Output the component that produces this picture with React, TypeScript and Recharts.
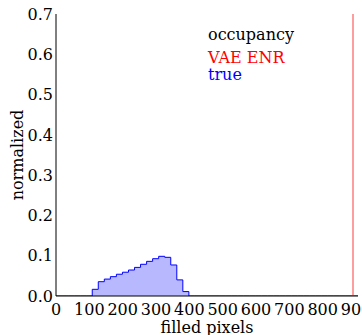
import { ComposedChart, Area, XAxis, YAxis, ReferenceLine } from "recharts";

// histogram range and bins
const X_MAX = 906;
const N_BINS = 50;
const FIRST_BIN = 6;
// normalized "true" occupancy, bins 6..21 (all others 0)
const TRUE_HIST = [
  0.0166, 0.0355, 0.042, 0.048, 0.054, 0.059, 0.0645, 0.071,
  0.0787, 0.086, 0.0926, 0.0985, 0.096, 0.077, 0.04, 0.011,
];
// VAE ENR shows up as a single spike near the right edge
const VAE_ENR_X = 891;

const X_TICKS = [0, 100, 200, 300, 400, 500, 600, 700, 800, 900];
const X_MINOR = Array.from({ length: 46 }, (_, i) => i * 20);
const Y_TICKS = [0, 0.1, 0.2, 0.3, 0.4, 0.5, 0.6, 0.7];

const LEGEND = [
  { label: "occupancy", color: "#000000" },
  { label: "VAE ENR", color: "#ff0000" },
  { label: "true", color: "#0000ff" },
];

const binWidth = X_MAX / N_BINS;
const data: { x: number; y: number }[] = [];
for (let i = 0; i <= N_BINS; i++) {
  const j = i - FIRST_BIN;
  data.push({ x: i * binWidth, y: j >= 0 && j < TRUE_HIST.length ? TRUE_HIST[j] : 0 });
}

const FONT = "'DejaVu Serif', 'Liberation Serif', serif";
const TICK = { fontSize: 16, fill: "#000", fontFamily: FONT };
const LINE = { stroke: "#000", strokeWidth: 1 };

export default function App() {
  return (
    <div style={{ position: "absolute", left: 0, top: 0, width: 362, height: 335, background: "#fff", fontFamily: FONT }}>
      <ComposedChart width={362} height={335} data={data} margin={{ top: 14, right: 4, left: 0, bottom: 0 }}>
        {/* main axes with labels */}
        <XAxis
          dataKey="x" type="number" domain={[0, X_MAX]} ticks={X_TICKS} allowDataOverflow interval={0}
          height={39} tickSize={0} tickMargin={8} tickLine={false} axisLine={LINE} tick={TICK}
          label={{ value: "filled pixels", position: "insideBottom", offset: 2, fontSize: 16, fill: "#000", fontFamily: FONT }}
        />
        <YAxis
          type="number" domain={[0, 0.7]} ticks={Y_TICKS} allowDataOverflow interval={0}
          width={56} tickSize={0} tickMargin={3} tickLine={false} axisLine={LINE} tick={TICK}
          tickFormatter={(v: number) => v.toFixed(1)}
          label={{ value: "normalized", angle: -90, position: "insideLeft", offset: 17, fontSize: 16, fill: "#000", fontFamily: FONT, style: { textAnchor: "middle" } }}
        />
        {/* inward ticks and frame */}
        <XAxis xAxisId="bIn" type="number" domain={[0, X_MAX]} ticks={X_TICKS} allowDataOverflow interval={0} mirror height={0} tick={false} tickSize={4} tickLine={LINE} axisLine={false} />
        <XAxis xAxisId="bMin" type="number" domain={[0, X_MAX]} ticks={X_MINOR} allowDataOverflow interval={0} mirror height={0} tick={false} tickSize={2} tickLine={LINE} axisLine={false} />
        <XAxis xAxisId="tIn" orientation="top" type="number" domain={[0, X_MAX]} ticks={X_TICKS} allowDataOverflow interval={0} mirror height={0} tick={false} tickSize={4} tickLine={LINE} axisLine={LINE} />
        <XAxis xAxisId="tMin" orientation="top" type="number" domain={[0, X_MAX]} ticks={X_MINOR} allowDataOverflow interval={0} mirror height={0} tick={false} tickSize={2} tickLine={LINE} axisLine={false} />
        <YAxis yAxisId="lIn" type="number" domain={[0, 0.7]} ticks={Y_TICKS} allowDataOverflow interval={0} mirror width={0} tick={false} tickSize={4} tickLine={LINE} axisLine={false} />
        <YAxis yAxisId="rIn" orientation="right" type="number" domain={[0, 0.7]} ticks={Y_TICKS} allowDataOverflow interval={0} mirror width={0} tick={false} tickSize={4} tickLine={LINE} axisLine={LINE} />

        <Area
          dataKey="y" type="stepAfter" stroke="#0000ff" strokeWidth={1}
          fill="#0000ff" fillOpacity={0.28} dot={false} activeDot={false} isAnimationActive={false}
        />
        <ReferenceLine x={VAE_ENR_X} stroke="#ff6a6a" strokeWidth={1.3} />
      </ComposedChart>
      <svg width={362} height={335} style={{ position: "absolute", left: 0, top: 0, pointerEvents: "none" }}>
        {LEGEND.map((d, i) => (
          <text key={d.label} x={208} y={[40, 63, 80][i]} fontSize={16} fontFamily={FONT} fill={d.color}>
            {d.label}
          </text>
        ))}
      </svg>
    </div>
  );
}
